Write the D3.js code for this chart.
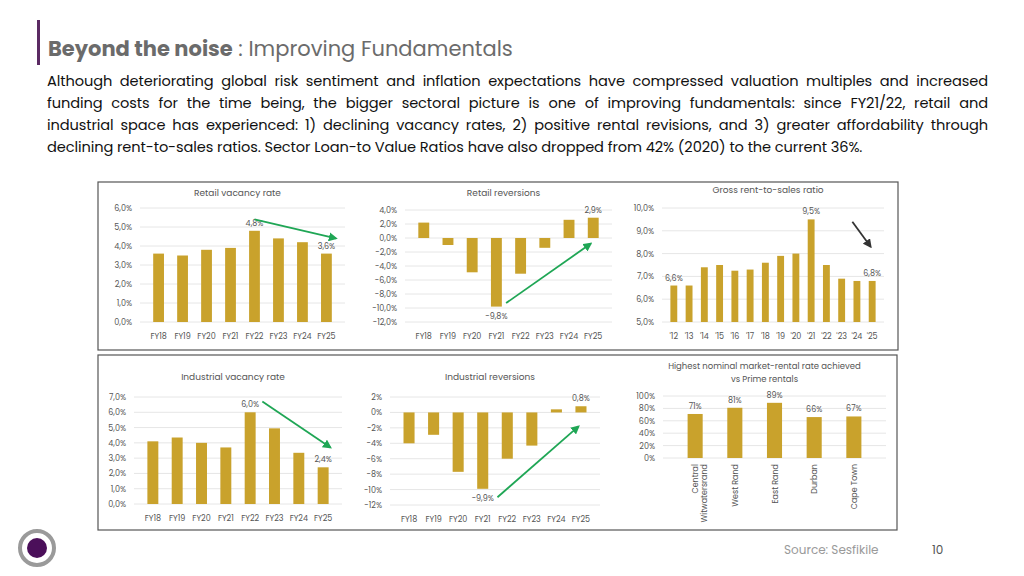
<!DOCTYPE html>
<html><head><meta charset="utf-8">
<script src="https://cdn.jsdelivr.net/npm/d3@7"></script>
<style>
body{margin:0;background:#fff;font-family:Poppins,"Noto Sans",sans-serif;}
#body{position:absolute;left:47px;top:70px;width:941px;font-size:14.6px;line-height:22px;color:#111;letter-spacing:-0.1px;}
#body div{text-align:justify;text-align-last:justify;white-space:nowrap;}
#body div.last{text-align-last:left;}
</style></head><body>
<div id="body">
<div>Although deteriorating global risk sentiment and inflation expectations have compressed valuation multiples and increased</div>
<div>funding costs for the time being, the bigger sectoral picture is one of improving fundamentals: since FY21/22, retail and</div>
<div>industrial space has experienced: 1) declining vacancy rates, 2) positive rental revisions, and 3) greater affordability through</div>
<div class="last">declining rent-to-sales ratios. Sector Loan-to Value Ratios have also dropped from 42% (2020) to the current 36%.</div>
</div>
<svg id="chart" width="1024" height="576" style="position:absolute;left:0;top:0"></svg>
<script>
// Chart data
var fy = ["FY18","FY19","FY20","FY21","FY22","FY23","FY24","FY25"];
var charts = [
  {title:"Retail vacancy rate", x0:140, x1:345, y0:322, y1:208, dom:[0,6], step:1, fmt:1, titleY:196,
   labels:fy, values:[3.6,3.5,3.8,3.9,4.8,4.4,4.2,3.6], show:{4:"4,8%",7:"3,6%"}, arrow:[[4,5.4],[7.4,4.4],"#1fa655"]},
  {title:"Retail reversions", x0:405, x1:612, y0:322, y1:210, dom:[-12,4], step:2, fmt:1, titleY:196,
   labels:fy, values:[2.2,-1.0,-4.9,-9.8,-5.1,-1.4,2.6,2.9], show:{3:"-9,8%",7:"2,9%"}, arrow:[[3.4,-9.3],[6.9,-0.8],"#1fa655"]},
  {title:"Gross rent-to-sales ratio", x0:662, x1:884, y0:322, y1:208, dom:[5,10], step:1, fmt:1, titleY:193,
   labels:["'12","'13","'14","'15","'16","'17","'18","'19","'20","'21","'22","'23","'24","'25"],
   values:[6.6,6.6,7.4,7.5,7.25,7.3,7.6,7.9,8.0,9.5,7.5,6.9,6.8,6.8], show:{0:"6,6%",9:"9,5%",13:"6,8%"}, arrow:[[11.7,9.4],[12.9,8.3],"#333"]},
  {title:"Industrial vacancy rate", x0:134, x1:342, y0:504, y1:397, dom:[0,7], step:1, fmt:1, titleY:380,
   labels:fy, values:[4.1,4.35,4.0,3.7,6.0,4.95,3.35,2.4], show:{4:"6,0%",7:"2,4%"}, arrow:[[4.5,6.7],[7.3,3.7],"#1fa655"]},
  {title:"Industrial reversions", x0:390, x1:600, y0:505, y1:397, dom:[-12,2], step:2, fmt:0, titleY:380,
   labels:fy, values:[-4.0,-2.9,-7.7,-9.9,-6.0,-4.3,0.4,0.8], show:{3:"-9,9%",7:"0,8%"}, arrow:[[3.6,-11.0],[6.9,-1.8],"#1fa655"]},
  {title:"", x0:663, x1:886, y0:458, y1:396, dom:[0,100], step:20, fmt:0, pct:true, rot:true,
   labels:["Central\nWitwatersrand","West Rand","East Rand","Durban","Cape Town"],
   values:[71,81,89,66,67], show:{0:"71%",1:"81%",2:"89%",3:"66%",4:"67%"}}
];

var svg = d3.select("#chart");
var gold = "#c9a22c";

// Header
svg.append("rect").attr("x",37).attr("y",20).attr("width",3).attr("height",45).attr("fill","#5b2a63");
var t = svg.append("text").attr("x",48).attr("y",56).attr("font-size",21).attr("fill","#6b6b6b");
t.append("tspan").attr("font-weight","bold").text("Beyond the noise");
t.append("tspan").text(" : Improving Fundamentals");

// Panel boxes
svg.append("rect").attr("x",98).attr("y",182).attr("width",800).attr("height",168).attr("fill","none").attr("stroke","#555").attr("stroke-width",1.2);
svg.append("rect").attr("x",98).attr("y",355).attr("width",799).attr("height",175).attr("fill","none").attr("stroke","#555").attr("stroke-width",1.2);

svg.append("defs").selectAll("marker").data([["g","#1fa655"],["k","#333"]]).join("marker")
  .attr("id",d=>"ar"+d[0]).attr("viewBox","0 0 10 10").attr("refX",8).attr("refY",5)
  .attr("markerWidth",5).attr("markerHeight",5).attr("orient","auto")
  .append("path").attr("d","M0,0L10,5L0,10z").attr("fill",d=>d[1]);

charts.forEach(function(c){
  var g = svg.append("g");
  var x = d3.scaleBand().domain(d3.range(c.values.length)).range([c.x0,c.x1]).padding(c.rot?0.62:0.55);
  var y = d3.scaleLinear().domain(c.dom).range([c.y0,c.y1]);
  var ticks = d3.range(c.dom[0], c.dom[1]+0.001, c.step);
  var fmt = v => c.pct ? v+"%" : v.toFixed(c.fmt).replace(".",",")+"%";
  g.selectAll(".grid").data(ticks).join("line").attr("x1",c.x0).attr("x2",c.x1)
    .attr("y1",d=>y(d)).attr("y2",d=>y(d)).attr("stroke","#e6e6e6");
  g.selectAll(".tl").data(ticks).join("text").attr("x",c.x0-8).attr("y",d=>y(d)+3)
    .attr("text-anchor","end").attr("font-size",8).attr("fill","#555").text(fmt);
  var base = y(Math.max(c.dom[0],0));
  g.selectAll(".bar").data(c.values).join("rect").attr("x",(d,i)=>x(i)).attr("width",x.bandwidth())
    .attr("y",d=>Math.min(y(d),base)).attr("height",d=>Math.abs(y(d)-base)).attr("fill",gold);
  var cx = i => x(i)+x.bandwidth()/2;
  if(c.rot){
    c.labels.forEach(function(l,i){
      var lt = g.append("text").attr("transform","translate("+(cx(i)+3)+","+(c.y0+6)+") rotate(-90)")
        .attr("text-anchor","end").attr("font-size",8).attr("fill","#555");
      l.split("\n").forEach((s,k)=>lt.append("tspan").attr("x",0).attr("dy",k?9:0).text(s));
    });
    g.append("text").attr("x",(c.x0+c.x1)/2-10).attr("y",369).attr("text-anchor","middle").attr("font-size",8.5).attr("fill","#555").text("Highest  nominal market-rental rate achieved");
    g.append("text").attr("x",(c.x0+c.x1)/2-10).attr("y",382).attr("text-anchor","middle").attr("font-size",8.5).attr("fill","#555").text("vs Prime rentals");
  } else {
    g.selectAll(".xl").data(c.labels).join("text").attr("x",(d,i)=>cx(i)).attr("y",c.y0+17)
      .attr("text-anchor","middle").attr("font-size",8).attr("fill","#555").text(d=>d);
    g.append("text").attr("x",(c.x0+c.x1)/2-5).attr("y",c.titleY).attr("text-anchor","middle").attr("font-size",9).attr("fill","#555").text(c.title);
  }
  Object.keys(c.show).forEach(function(k){
    var v = c.values[k];
    var yy = v<0 ? y(v)+12 : y(v)-5;
    g.append("text").attr("x",cx(+k)).attr("y",yy).attr("text-anchor","middle").attr("font-size",8).attr("fill","#555").text(c.show[k]);
  });
  if(c.arrow){
    var a = c.arrow, sx = d3.scaleLinear().domain([0,c.values.length-1]).range([cx(0),cx(c.values.length-1)]);
    g.append("line").attr("x1",sx(a[0][0])).attr("y1",y(a[0][1])).attr("x2",sx(a[1][0])).attr("y2",y(a[1][1]))
      .attr("stroke",a[2]).attr("stroke-width",1.8).attr("marker-end","url(#ar"+(a[2]=="#333"?"k":"g")+")");
  }
});

// Footer
svg.append("circle").attr("cx",37).attr("cy",548).attr("r",17).attr("fill","none").attr("stroke","#9a9a9a").attr("stroke-width",4);
svg.append("circle").attr("cx",37).attr("cy",548).attr("r",10).attr("fill","#4b0f5a");
svg.append("text").attr("x",784).attr("y",554).attr("font-size",12).attr("fill","#9a9a9a").text("Source: Sesfikile");
svg.append("text").attr("x",932).attr("y",554).attr("font-size",12).attr("fill","#555").text("10");
</script>
</body></html>
